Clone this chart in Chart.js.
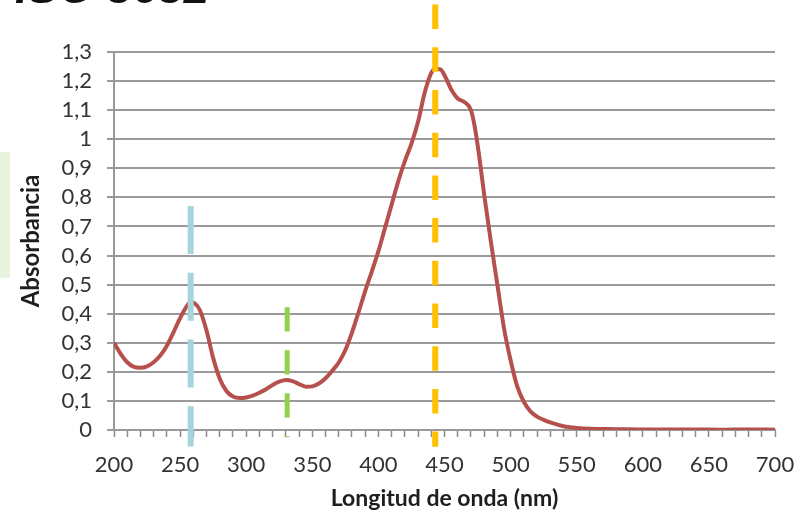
<!DOCTYPE html>
<html lang="es">
<head>
<meta charset="utf-8">
<title>Espectro de absorción</title>
<script src="https://cdn.jsdelivr.net/npm/chart.js@4/dist/chart.umd.min.js"></script>
<style>
  html, body { margin: 0; padding: 0; background: #ffffff; }
  #wrap { position: relative; width: 798px; height: 518px; overflow: hidden; }
  #side { position: absolute; left: 0; top: 152px; width: 10px; height: 126px; background: #e8f3de; }
  #chart { position: absolute; left: 0; top: 0; }
</style>
</head>
<body>
<div id="wrap">
  <div id="side"></div>
  <canvas id="chart" width="798" height="518"></canvas>
</div>
<script>
// Wavelength (nm) and measured absorbance of the extract
const wavelengths = [200,205,210,215,220,225,230,235,240,245,250,255,258,261,265,270,275,280,285,290,
  295,300,305,310,315,320,325,330,335,340,345,350,355,360,365,370,375,380,385,390,
  395,400,405,410,415,420,425,430,435,440,443,447,450,455,460,465,470,473,476,480,
  485,490,495,500,505,510,515,520,525,530,540,550,560,580,600,620,640,660,680,700];
const absorbance = [0.300,0.262,0.233,0.217,0.214,0.219,0.233,0.256,0.290,0.336,0.385,0.425,0.440,0.436,0.412,0.342,0.248,0.176,0.134,0.115,
  0.110,0.112,0.118,0.128,0.140,0.155,0.166,0.172,0.168,0.158,0.149,0.150,0.160,0.178,0.203,0.232,0.275,0.335,0.405,0.478,
  0.545,0.615,0.695,0.775,0.855,0.925,0.985,1.060,1.160,1.228,1.242,1.240,1.220,1.172,1.140,1.128,1.100,1.040,0.950,0.810,
  0.650,0.500,0.350,0.240,0.150,0.097,0.064,0.046,0.035,0.026,0.013,0.007,0.004,0.003,0.002,0.002,0.002,0.001,0.002,0.001];

// Reference wavelengths of ISO 3632 (picrocrocin, safranal, crocin) and the span of each marker
const markerWavelengths = [258, 331, 443];
const markerTop = [0.770, 0.422, 1.463];
const markerBottom = [-0.057, -0.025, -0.058];

// Axis labels
const xTickLabels = ['200','250','300','350','400','450','500','550','600','650','700'];
const yTickLabels = ['0','0,1','0,2','0,3','0,4','0,5','0,6','0,7','0,8','0,9','1','1,1','1,2','1,3'];
const chartTitle = 'ISO 3632';
const xTitle = 'Longitud de onda (nm)';
const yTitle = 'Absorbancia';

const markerColors = ['#a6d4da', '#92d050', '#ffc000'];
const markerDash = [[48, 18.7], [24.3, 18.7], [24.5, 18.2]];
const markerWidths = [6, 5, 6];

const markerSets = markerWavelengths.map((w, i) => ({
  data: [{ x: w, y: markerTop[i] }, { x: w, y: markerBottom[i] }],
  borderColor: markerColors[i],
  borderWidth: markerWidths[i],
  borderDash: markerDash[i],
  borderCapStyle: 'butt',
  pointRadius: 0,
  clip: false,
  order: 0
}));

const spectrum = {
  data: wavelengths.map((w, i) => ({ x: w, y: absorbance[i] })),
  borderColor: '#b5504c',
  borderWidth: 4,
  pointRadius: 0,
  cubicInterpolationMode: 'monotone',
  order: 1
};

// Heading text, only its lower part falls inside the canvas
const headingPlugin = {
  id: 'heading',
  afterDraw(chart) {
    const ctx = chart.ctx;
    ctx.save();
    ctx.font = 'italic bold 46px "Liberation Sans", Arial, sans-serif';
    ctx.fillStyle = '#111111';
    ctx.textBaseline = 'alphabetic';
    ctx.textAlign = 'left';
    ctx.fillText(chartTitle, 15, 3);
    ctx.restore();
  }
};

const labelFont = 'Lato, "Open Sans", sans-serif';

function build() {
  new Chart(document.getElementById('chart'), {
    type: 'line',
    data: { datasets: [...markerSets, spectrum] },
    plugins: [headingPlugin],
    options: {
      responsive: false,
      animation: false,
      events: [],
      layout: { padding: { top: 52, right: 23, left: 0, bottom: 0 } },
      plugins: { legend: { display: false }, tooltip: { enabled: false } },
      scales: {
        x: {
          type: 'linear',
          min: 200,
          max: 700,
          afterFit(scale) {
            scale.height = 88;
            // the end labels sit inside the fixed margins
            scale.paddingLeft = 0;
            scale.paddingRight = 0;
          },
          ticks: {
            stepSize: 10,
            autoSkip: false,
            maxRotation: 0,
            padding: 15,
            color: '#333333',
            font: { family: labelFont, size: 22 },
            callback(v) {
              if (v % 50 !== 0) return '';
              return xTickLabels[(v - 200) / 50];
            }
          },
          grid: {
            drawOnChartArea: false,
            drawTicks: true,
            tickLength: 7,
            tickColor: '#8a8a8a',
            tickWidth: 1.5
          },
          border: { display: true, color: '#999999', width: 2 },
          title: {
            display: true,
            text: xTitle,
            color: '#1e1e1e',
            font: { family: labelFont, size: 23, weight: 'bold' },
            padding: { top: 0, bottom: 6 }
          }
        },
        y: {
          min: 0,
          max: 1.3,
          afterFit(scale) {
            scale.width = 114;
            scale.paddingTop = 0;
            scale.paddingBottom = 0;
          },
          ticks: {
            stepSize: 0.1,
            autoSkip: false,
            padding: 15,
            color: '#333333',
            font: { family: labelFont, size: 22 },
            callback(v) { return yTickLabels[Math.round(v * 10)]; }
          },
          grid: {
            color: '#9a9a9a',
            lineWidth: 2,
            drawTicks: true,
            tickLength: 7,
            tickColor: '#9a9a9a'
          },
          border: { display: true, color: '#999999', width: 2 },
          title: {
            display: true,
            text: yTitle,
            color: '#1e1e1e',
            font: { family: labelFont, size: 24, weight: 'bold' },
            padding: { top: 17, bottom: 0 }
          }
        }
      }
    }
  });
}

Promise.all([
  document.fonts.load('22px Lato'),
  document.fonts.load('bold 22px Lato'),
  document.fonts.load('italic bold 46px "Liberation Sans"')
]).then(build, build);
</script>
</body>
</html>
